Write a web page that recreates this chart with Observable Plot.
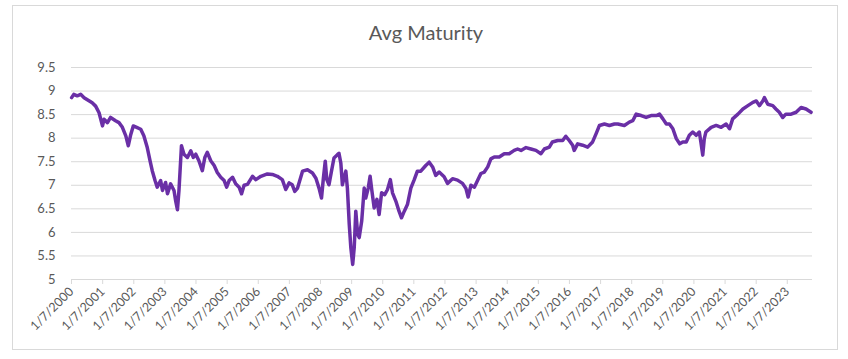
<!DOCTYPE html>
<html>
<head>
<meta charset="utf-8">
<script src="https://cdn.jsdelivr.net/npm/d3@7"></script>
<script src="https://cdn.jsdelivr.net/npm/@observablehq/plot@0.6"></script>
<style>
  html, body { margin: 0; padding: 0; background: #fff; }
  #wrap { position: relative; width: 848px; height: 359px; overflow: hidden; font-family: Lato, "Open Sans", sans-serif; }
  #frame { position: absolute; left: 12px; top: 5px; width: 826px; height: 345px; box-sizing: border-box; border: 1px solid #d9d9d9; }
  #title { position: absolute; left: 12px; top: 20px; width: 828px; text-align: center; font-size: 20px; color: #595959; }
  #chart { position: absolute; left: 0; top: 50px; }
</style>
</head>
<body>
<div id="wrap">
  <div id="frame"></div>
  <div id="title">Avg Maturity</div>
  <div id="chart"></div>
</div>
<script>
const title = "Avg Maturity";
const yTicks = [5, 5.5, 6, 6.5, 7, 7.5, 8, 8.5, 9, 9.5];
const xTickLabels = ["1/7/2000","1/7/2001","1/7/2002","1/7/2003","1/7/2004","1/7/2005","1/7/2006","1/7/2007","1/7/2008","1/7/2009","1/7/2010","1/7/2011","1/7/2012","1/7/2013","1/7/2014","1/7/2015","1/7/2016","1/7/2017","1/7/2018","1/7/2019","1/7/2020","1/7/2021","1/7/2022","1/7/2023"];
const xDomain = ["2000-01-07", "2023-10-30"];
// [decimal year, avg maturity (years)]
const points = [
[2000.02,8.86],[2000.09,8.93],[2000.20,8.90],[2000.31,8.93],[2000.42,8.86],[2000.68,8.75],[2000.79,8.68],[2000.90,8.54],
[2001.01,8.26],[2001.06,8.40],[2001.17,8.33],[2001.27,8.44],[2001.43,8.37],[2001.54,8.33],[2001.65,8.23],[2001.76,8.05],[2001.84,7.84],[2001.92,8.08],
[2002.00,8.26],[2002.11,8.23],[2002.24,8.19],[2002.34,8.05],[2002.45,7.80],[2002.54,7.52],[2002.61,7.31],[2002.70,7.10],[2002.77,6.96],[2002.88,7.10],[2002.94,6.89],
[2003.04,7.06],[2003.10,6.82],[2003.20,7.03],[2003.31,6.89],[2003.36,6.68],[2003.42,6.48],[2003.47,6.89],[2003.55,7.84],[2003.63,7.66],[2003.74,7.59],[2003.85,7.73],[2003.93,7.59],
[2004.01,7.66],[2004.11,7.52],[2004.22,7.31],[2004.30,7.59],[2004.38,7.70],[2004.49,7.52],[2004.60,7.42],[2004.70,7.27],[2004.81,7.17],[2004.92,7.10],
[2005.00,6.96],[2005.08,7.10],[2005.19,7.17],[2005.29,7.03],[2005.40,6.96],[2005.48,6.82],[2005.56,7.00],[2005.67,7.02],[2005.83,7.19],[2005.94,7.12],
[2006.10,7.19],[2006.31,7.24],[2006.47,7.23],[2006.63,7.19],[2006.79,7.12],[2006.90,6.91],
[2007.01,7.05],[2007.11,7.01],[2007.19,6.87],[2007.28,6.94],[2007.44,7.30],[2007.60,7.33],[2007.76,7.26],[2007.87,7.15],[2007.97,6.94],
[2008.05,6.73],[2008.11,7.15],[2008.17,7.51],[2008.22,7.12],[2008.29,7.01],[2008.37,7.30],[2008.45,7.58],[2008.56,7.65],[2008.61,7.68],[2008.67,7.47],[2008.72,7.01],[2008.77,7.15],[2008.83,7.30],[2008.88,6.94],[2008.94,6.17],[2008.99,5.68],
[2009.05,5.32],[2009.10,5.68],[2009.15,6.45],[2009.21,5.96],[2009.26,5.89],[2009.34,6.24],[2009.42,6.94],[2009.47,6.73],[2009.55,6.94],[2009.61,7.19],[2009.67,6.87],[2009.74,6.52],[2009.83,6.70],[2009.90,6.38],[2009.98,6.84],
[2010.08,6.80],[2010.17,6.91],[2010.26,7.12],[2010.33,6.84],[2010.44,6.66],[2010.54,6.45],[2010.62,6.31],[2010.71,6.45],[2010.81,6.59],[2010.92,6.94],
[2011.03,7.12],[2011.13,7.30],[2011.24,7.30],[2011.40,7.42],[2011.51,7.49],[2011.62,7.39],[2011.72,7.21],[2011.83,7.28],[2011.99,7.18],
[2012.10,7.04],[2012.26,7.14],[2012.42,7.11],[2012.58,7.04],[2012.69,6.93],[2012.76,6.75],[2012.85,7.00],[2012.96,6.96],
[2013.07,7.11],[2013.17,7.25],[2013.28,7.28],[2013.39,7.39],[2013.49,7.56],[2013.60,7.60],[2013.76,7.60],[2013.92,7.67],
[2014.08,7.67],[2014.24,7.74],[2014.35,7.77],[2014.46,7.74],[2014.62,7.80],[2014.78,7.77],[2014.94,7.74],
[2015.10,7.67],[2015.21,7.77],[2015.37,7.81],[2015.47,7.92],[2015.64,7.95],[2015.80,7.95],[2015.90,8.04],
[2016.01,7.95],[2016.12,7.85],[2016.17,7.74],[2016.28,7.88],[2016.44,7.85],[2016.60,7.81],[2016.76,7.92],[2016.87,8.09],[2016.98,8.27],
[2017.14,8.30],[2017.30,8.27],[2017.46,8.30],[2017.57,8.30],[2017.78,8.27],[2017.94,8.34],
[2018.05,8.37],[2018.16,8.51],[2018.32,8.48],[2018.48,8.44],[2018.64,8.48],[2018.81,8.48],[2018.91,8.51],
[2019.02,8.41],[2019.13,8.30],[2019.23,8.30],[2019.34,8.20],[2019.45,7.99],[2019.56,7.88],[2019.66,7.92],[2019.77,7.92],[2019.87,8.06],[2019.98,8.13],
[2020.09,8.06],[2020.19,8.13],[2020.24,7.92],[2020.30,7.64],[2020.35,7.99],[2020.40,8.13],[2020.57,8.23],[2020.73,8.27],[2020.89,8.23],
[2021.05,8.30],[2021.16,8.20],[2021.26,8.41],[2021.43,8.51],[2021.59,8.62],[2021.75,8.69],[2021.91,8.76],
[2022.02,8.79],[2022.12,8.69],[2022.23,8.79],[2022.28,8.86],[2022.39,8.72],[2022.55,8.69],[2022.65,8.62],[2022.76,8.55],[2022.87,8.44],[2022.97,8.51],
[2023.14,8.51],[2023.30,8.55],[2023.46,8.65],[2023.62,8.62],[2023.78,8.55]
];

function decYear(y) {
  const Y = Math.floor(y);
  const s = Date.UTC(Y, 0, 1), e = Date.UTC(Y + 1, 0, 1);
  return new Date(s + (y - Y) * (e - s));
}
const parseTick = d3.utcParse("%m/%d/%Y");
const xTicks = xTickLabels.map(parseTick);
const labelOf = new Map(xTicks.map((d, i) => [+d, xTickLabels[i]]));
const data = points.map(([y, v]) => ({date: decYear(y), value: v}));

document.getElementById("title").textContent = title;

const chart = Plot.plot({
  width: 848,
  height: 295,
  marginLeft: 71,
  marginRight: 36,
  marginTop: 17,
  marginBottom: 66,
  style: {fontFamily: "Lato, 'Open Sans', sans-serif", color: "#595959", background: "transparent", overflow: "visible"},
  x: {type: "utc", domain: xDomain.map(d => new Date(d))},
  y: {domain: [5, 9.5]},
  marks: [
    Plot.gridY(yTicks, {stroke: "#d9d9d9", strokeOpacity: 1, strokeWidth: 1}),
    Plot.axisY(yTicks, {tickSize: 0, tickPadding: 16, fontSize: 13, tickFormat: d => String(d), label: null}),
    Plot.axisX(xTicks, {tickSize: 5, tickPadding: 5, tickRotate: -45, fontSize: 12.5, stroke: "#d9d9d9", tickFormat: d => labelOf.get(+d), label: null}),
    Plot.line(data, {x: "date", y: "value", stroke: "#6a2fa6", strokeWidth: 3.5, strokeLinejoin: "round", curve: "linear"})
  ]
});
document.getElementById("chart").appendChild(chart);
</script>
</body>
</html>
